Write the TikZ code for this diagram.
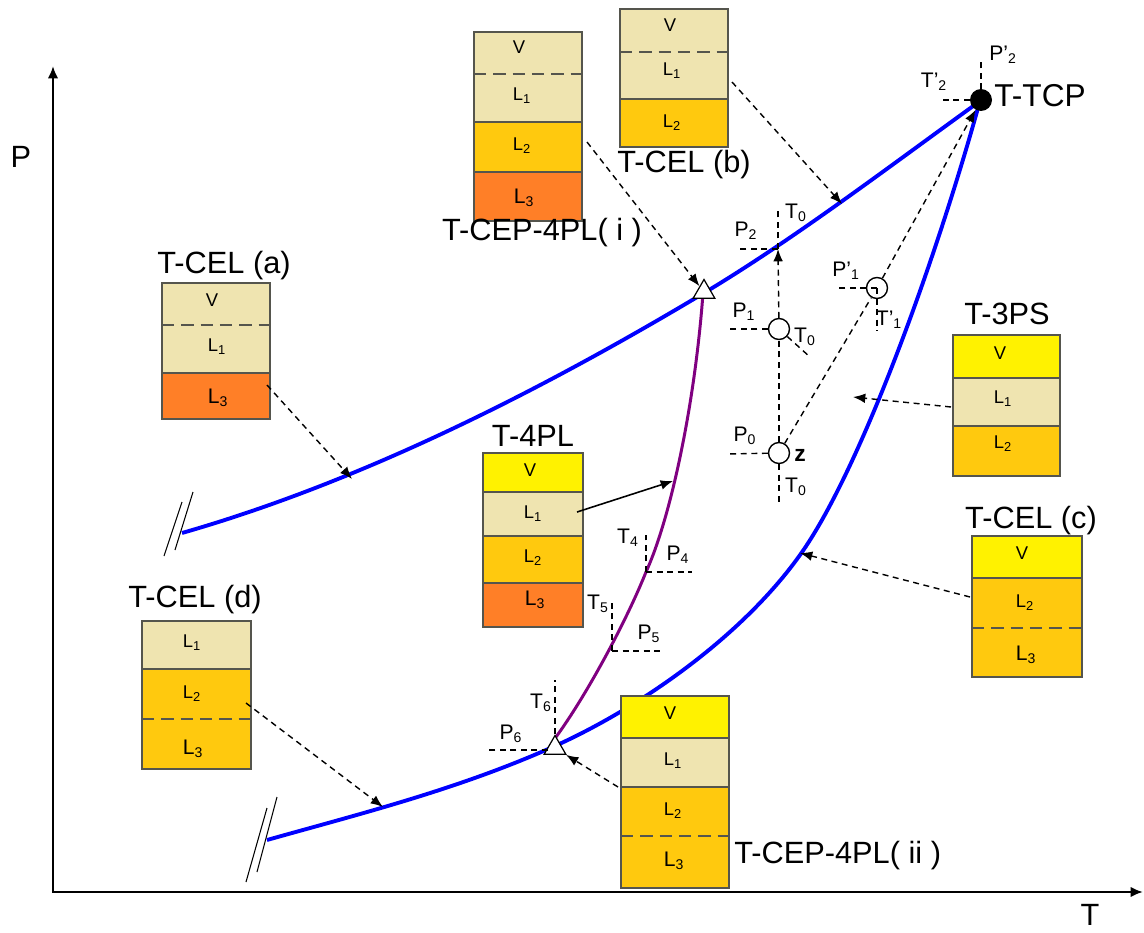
\documentclass[tikz,border=0pt]{standalone}
\usepackage{fontspec}
\setmainfont{Liberation Sans}
\usetikzlibrary{arrows.meta,shapes.geometric}
\definecolor{beige}{HTML}{EFE4B0}
\definecolor{gold}{HTML}{FFC90E}
\definecolor{orng}{HTML}{FF7F27}
\definecolor{yel}{HTML}{FFF200}
\definecolor{edge}{HTML}{55554D}
\definecolor{curveblue}{HTML}{0000FF}
\definecolor{purp}{HTML}{800080}
\newcommand{\lyr}[5]{\fill[#5] (#1,#3) rectangle (#2,#4);}
\begin{document}
\begin{tikzpicture}[x=0.02cm,y=-0.02cm,
  boxline/.style={draw=edge,line width=0.9pt},
  sep/.style={draw=edge,line width=0.9pt},
  sepd/.style={draw=edge,line width=0.9pt,dash pattern=on 7pt off 4pt},
  lay/.style={font=\fontsize{10.5}{12}\selectfont,inner sep=0pt},
  big/.style={font=\fontsize{17.5}{20}\selectfont,inner sep=0pt},
  ptl/.style={font=\fontsize{12}{14}\selectfont,inner sep=0pt},
  dsh/.style={black,line width=0.8pt,dash pattern=on 3.4pt off 2.6pt},
  arr/.style={-{Latex[length=7pt,width=5.5pt]}},
  axis/.style={black,line width=1.5pt},
  brk/.style={black,line width=0.6pt},
  bluec/.style={curveblue,line width=2.2pt},
  purc/.style={purp,line width=1.7pt},
  tri/.style={draw=black,fill=white,line width=0.7pt,regular polygon,regular polygon sides=3,minimum size=0.5cm,inner sep=0pt},
  circ/.style={draw=black,circle,line width=0.8pt,minimum size=0.42cm,inner sep=0pt},
]
\useasboundingbox (0,0) rectangle (1144,933);

% axes
\coordinate (Ytip) at (53,66);
\coordinate (Xtip) at (1143,892);
\draw[axis,{Latex[length=7pt,width=6pt]}-{Latex[length=7pt,width=6pt]}] (Ytip) |- (Xtip);
\node[big] (Plab) at (21,157) {P};
\node[big] (Tlab) at (1090,915) {T};

% curves
\draw[bluec] (182,533) .. controls (356,483) and (530,397) .. (704,293)
             .. controls (794,239) and (886,169) .. (976,104);
\draw[bluec] (267,840) .. controls (363,813) and (459,789) .. (555,746)
             .. controls (637,709) and (740,639) .. (800,555)
             .. controls (860,471) and (935,262) .. (978,108);
\draw[purc] (556,737) .. controls (586,696) and (626,622) .. (646,572)
            .. controls (671,517) and (695,403) .. (703,293);

% break marks
\draw[brk] (164,556) -- (182,502);
\draw[brk] (175,550) -- (193,492);
\draw[brk] (246,882) -- (267,808);
\draw[brk] (257,872) -- (277,797);

% special points
\node[tri] (tri1) at (704,292) {};
\node[tri] (tri2) at (555,748) {};
\node[circle,fill=black,minimum size=0.44cm,inner sep=0pt] (tcp) at (981,100) {};
\node[big,font=\fontsize{18}{20}\selectfont] (tcplab) at (1040,96) {T-TCP};

% TCP dashed guides
\coordinate (tcpv) at (981,60);
\coordinate (tcph) at (940,100);
\draw[dsh] (tcp.center) -- (tcpv);
\draw[dsh] (tcp.west) -- (tcph);
\node[ptl] (P2p) at (1003,55) {P’\textsubscript{2}};
\node[ptl] (T2p) at (934,82) {T’\textsubscript{2}};

% P2 point
\coordinate (p2) at (778,249);
\coordinate (p2v) at (778,208);
\coordinate (p2h) at (737,249);
\draw[dsh] (p2) -- (p2v);
\draw[dsh] (p2) -- (p2h);
\node[ptl] (P2l) at (746,231) {P\textsubscript{2}};
\node[ptl] (T0a) at (796,213) {T\textsubscript{0}};

% P1 point
\node[circ] (c1) at (779,329) {};
\coordinate (p1h) at (728,329);
\coordinate (p1d) at (810,357);
\draw[dsh] (c1) -- (p1h);
\draw[dsh] (c1) -- (p1d);
\draw[dsh,arr] (c1) -- (p2);
\node[ptl] (P1l) at (744,312) {P\textsubscript{1}};
\node[ptl] (T0b) at (805,337) {T\textsubscript{0}};

% P0 point
\node[circ] (c0) at (779,453) {};
\coordinate (p0h) at (727,454);
\coordinate (p0v) at (779,502);
\draw[dsh] (c0) -- (p0h);
\draw[dsh] (c0) -- (p0v);
\draw[dsh] (c0) -- (c1);
\node[ptl] (P0l) at (745,436) {P\textsubscript{0}};
\node[ptl,font=\fontsize{13}{14}\selectfont\bfseries] (zl) at (800,455) {z};
\node[ptl] (T0c) at (796,487) {T\textsubscript{0}};

% P'1 point
\node[circ] (cp) at (877,288) {};
\coordinate (pph) at (835,288);
\coordinate (ppv) at (877,331);
\draw[dsh] (cp.center) -- (pph);
\draw[dsh] (cp.center) -- (ppv);
\draw[dsh] (c0) -- (cp);
\draw[dsh,arr] (cp) -- (tcp);
\node[ptl] (P1p) at (846,271) {P’\textsubscript{1}};
\node[ptl] (T1p) at (889,320) {T’\textsubscript{1}};

% T4,T5,T6 guides
\coordinate (q4) at (646,572);
\coordinate (q4v) at (646,535);
\coordinate (q4h) at (692,572);
\draw[dsh] (q4) -- (q4v); \draw[dsh] (q4) -- (q4h);
\node[ptl] (T4l) at (628,538) {T\textsubscript{4}};
\node[ptl] (P4l) at (678,555) {P\textsubscript{4}};
\coordinate (q5) at (612,651);
\coordinate (q5v) at (612,601);
\coordinate (q5h) at (662,651);
\draw[dsh] (q5) -- (q5v); \draw[dsh] (q5) -- (q5h);
\node[ptl] (T5l) at (598,604) {T\textsubscript{5}};
\node[ptl] (P5l) at (649,634) {P\textsubscript{5}};
\coordinate (q6v) at (555,680);
\coordinate (q6h) at (487,750);
\coordinate (q6) at (548,750);
\draw[dsh] (tri2.north) -- (q6v);
\draw[dsh] (q6) -- (q6h);
\node[ptl] (T6l) at (541,703) {T\textsubscript{6}};
\node[ptl] (P6l) at (511,734) {P\textsubscript{6}};

% ---- Box T-CEP-4PL(i)
\lyr{474}{582}{32}{122}{beige}
\lyr{474}{582}{122}{172}{gold}
\lyr{474}{582}{172}{221}{orng}
\draw[sepd] (474,74) -- (582,74);
\draw[sep] (474,122) -- (582,122);
\draw[sep] (474,172) -- (582,172);
\draw[boxline] (474,32) rectangle (582,221);
\node[lay] (i-v) at (519,47) {V};
\node[lay] (i-l1) at (522,96) {L\textsubscript{1}};
\node[lay] (i-l2) at (522,146) {L\textsubscript{2}};
\node[lay,font=\fontsize{12}{14}\selectfont] (i-l3) at (524,198) {L\textsubscript{3}};
\node[big] (i-lab) at (542,233) {T-CEP-4PL( i )};
\coordinate (i-out) at (587,142);

% ---- Box T-CEL (b)
\lyr{620}{728}{9}{99}{beige}
\lyr{620}{728}{99}{147}{gold}
\draw[sepd] (620,52) -- (728,52);
\draw[sep] (620,99) -- (728,99);
\draw[boxline] (620,9) rectangle (728,147);
\node[lay] (b-v) at (670,25) {V};
\node[lay] (b-l1) at (672,71) {L\textsubscript{1}};
\node[lay] (b-l2) at (672,123) {L\textsubscript{2}};
\node[big] (b-lab) at (684,165) {T-CEL (b)};
\coordinate (b-out) at (732,82);

% ---- Box T-CEL (a)
\lyr{162}{270}{283}{373}{beige}
\lyr{162}{270}{373}{419}{orng}
\draw[sepd] (162,325) -- (270,325);
\draw[sep] (162,373) -- (270,373);
\draw[boxline] (162,283) rectangle (270,419);
\node[lay] (a-v) at (212,300) {V};
\node[lay] (a-l1) at (217,347) {L\textsubscript{1}};
\node[lay,font=\fontsize{12}{14}\selectfont] (a-l3) at (218,398) {L\textsubscript{3}};
\node[big] (a-lab) at (224,266) {T-CEL (a)};
\coordinate (a-out) at (267,385);

% ---- Box T-4PL
\lyr{483}{583}{453}{492}{yel}
\lyr{483}{583}{492}{536}{beige}
\lyr{483}{583}{536}{583}{gold}
\lyr{483}{583}{583}{627}{orng}
\draw[sep] (483,492) -- (583,492);
\draw[sep] (483,536) -- (583,536);
\draw[sep] (483,583) -- (583,583);
\draw[boxline] (483,453) rectangle (583,627);
\node[lay] (f-v) at (530,470) {V};
\node[lay] (f-l1) at (533,514) {L\textsubscript{1}};
\node[lay] (f-l2) at (533,558) {L\textsubscript{2}};
\node[lay,font=\fontsize{12}{14}\selectfont] (f-l3) at (535,600) {L\textsubscript{3}};
\node[big] (f-lab) at (533,436) {T-4PL};
\coordinate (f-out) at (577,512);

% ---- Box T-3PS
\lyr{953}{1060}{335}{378}{yel}
\lyr{953}{1060}{378}{426}{beige}
\lyr{953}{1060}{426}{476}{gold}
\draw[sep] (953,378) -- (1060,378);
\draw[sep] (953,426) -- (1060,426);
\draw[boxline] (953,335) rectangle (1060,476);
\node[lay] (s-v) at (1000,353) {V};
\node[lay] (s-l1) at (1003,399) {L\textsubscript{1}};
\node[lay] (s-l2) at (1003,444) {L\textsubscript{2}};
\node[big] (s-lab) at (1007,314) {T-3PS};
\coordinate (s-out) at (951,407);

% ---- Box T-CEL (c)
\lyr{972}{1082}{536}{578}{yel}
\lyr{972}{1082}{578}{677}{gold}
\draw[sep] (972,578) -- (1082,578);
\draw[sepd] (972,628) -- (1082,628);
\draw[boxline] (972,536) rectangle (1082,677);
\node[lay] (c-v) at (1022,553) {V};
\node[lay] (c-l2) at (1025,603) {L\textsubscript{2}};
\node[lay,font=\fontsize{12}{14}\selectfont] (c-l3) at (1026,655) {L\textsubscript{3}};
\node[big] (c-lab) at (1031,521) {T-CEL (c)};
\coordinate (c-out) at (970,597);

% ---- Box T-CEL (d)
\lyr{142}{251}{621}{669}{beige}
\lyr{142}{251}{669}{769}{gold}
\draw[sep] (142,669) -- (251,669);
\draw[sepd] (142,719) -- (251,719);
\draw[boxline] (142,621) rectangle (251,769);
\node[lay] (d-l1) at (192,643) {L\textsubscript{1}};
\node[lay] (d-l2) at (192,694) {L\textsubscript{2}};
\node[lay,font=\fontsize{12}{14}\selectfont] (d-l3) at (193,749) {L\textsubscript{3}};
\node[big] (d-lab) at (195,600) {T-CEL (d)};
\coordinate (d-out) at (246,703);

% ---- Box T-CEP-4PL(ii)
\lyr{621}{729}{696}{738}{yel}
\lyr{621}{729}{738}{787}{beige}
\lyr{621}{729}{787}{888}{gold}
\draw[sep] (621,738) -- (729,738);
\draw[sep] (621,787) -- (729,787);
\draw[sepd] (621,836) -- (729,836);
\draw[boxline] (621,696) rectangle (729,888);
\node[lay] (j-v) at (670,713) {V};
\node[lay] (j-l1) at (673,761) {L\textsubscript{1}};
\node[lay] (j-l2) at (673,811) {L\textsubscript{2}};
\node[lay,font=\fontsize{12}{14}\selectfont] (j-l3) at (674,861) {L\textsubscript{3}};
\node[big,anchor=west] (j-lab) at (734,856) {T-CEP-4PL( ii )};
\coordinate (j-out) at (618,787);

% targets on curves
\coordinate (ta) at (352,479);
\coordinate (tb) at (842,204);
\coordinate (ts) at (853,397);
\coordinate (tc) at (800,553);
\coordinate (td) at (383,807);
\coordinate (tf) at (673,481);

% connectors
\draw[dsh,arr] (a-out) -- (ta);
\draw[dsh,arr] (b-out) -- (tb);
\draw[dsh,arr] (i-out) -- (tri1);
\draw[dsh,arr] (s-out) -- (ts);
\draw[dsh,arr] (c-out) -- (tc);
\draw[dsh,arr] (d-out) -- (td);
\draw[dsh,arr] (j-out) -- (tri2);
\draw[black,line width=0.9pt,arr] (f-out) -- (tf);
\end{tikzpicture}
\end{document}
